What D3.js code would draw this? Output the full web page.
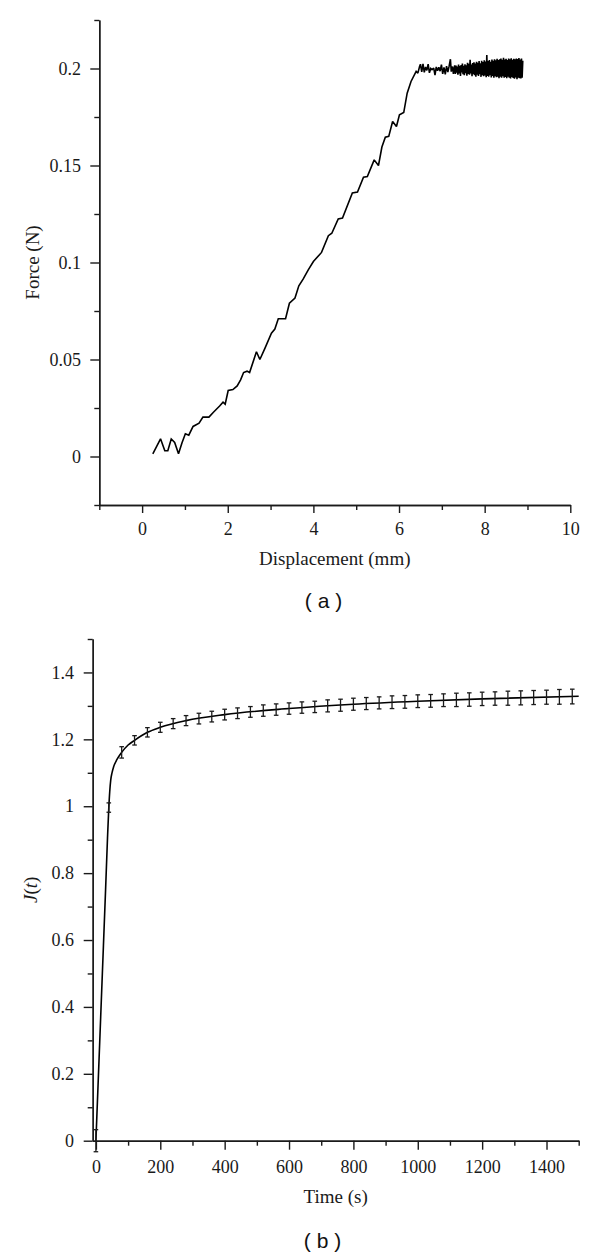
<!DOCTYPE html>
<html><head><meta charset="utf-8">
<script src="https://cdn.jsdelivr.net/npm/d3@7"></script>
<style>body{margin:0;background:#fff} svg{display:block}</style>
</head><body>
<svg id="c" width="600" height="1257"></svg>
<script>
// ---------- Panel (a): Force vs Displacement ----------
const dispTicks = [0, 2, 4, 6, 8, 10];
const dispTickLabels = ["0", "2", "4", "6", "8", "10"];
const dispMinorTicks = [-1, 1, 3, 5, 7, 9];
const forceTicks = [0, 0.05, 0.1, 0.15, 0.2];
const forceTickLabels = ["0", "0.05", "0.1", "0.15", "0.2"];
const forceMinorTicks = [-0.025, 0.025, 0.075, 0.125, 0.175, 0.225];

const forceRise = [
[0.25,0.0014],[0.43,0.0091],[0.53,0.0030],[0.60,0.0030],[0.68,0.0090],[0.76,0.0072],
[0.85,0.0014],[0.93,0.0070],[1.01,0.0117],[1.09,0.0110],[1.19,0.0155],[1.33,0.0172],
[1.42,0.0203],[1.56,0.0203],[1.66,0.0227],[1.81,0.0260],[1.89,0.0280],[1.94,0.0270],
[2.01,0.0340],[2.12,0.0345],[2.22,0.0364],[2.30,0.0395],[2.37,0.0433],[2.45,0.0440],
[2.51,0.0433],[2.67,0.0540],[2.75,0.0500],[2.87,0.0559],[3.02,0.0636],[3.10,0.0657],
[3.18,0.0710],[3.35,0.0710],[3.44,0.0790],[3.57,0.0817],[3.66,0.0880],[3.76,0.0914],
[3.88,0.0962],[4.00,0.1005],[4.19,0.1052],[4.35,0.1138],[4.43,0.1151],[4.58,0.1225],
[4.68,0.1229],[4.91,0.1358],[5.03,0.1363],[5.17,0.1440],[5.26,0.1443],[5.42,0.1529],
[5.52,0.1500],[5.60,0.1595],[5.68,0.1646],[5.76,0.1650],[5.85,0.1727],[5.94,0.1701],
[6.01,0.1761],[6.11,0.1773],[6.19,0.1873],[6.28,0.1933],[6.40,0.1985],[6.44,0.1976]
];
const forcePlateauSparse = [
[6.48,0.2010],[6.50,0.2022],[6.53,0.1982],[6.56,0.2024],[6.59,0.1980],[6.62,0.2008],
[6.65,0.1990],[6.68,0.2022],[6.71,0.1978],[6.74,0.2000],[6.77,0.1994],[6.81,0.2002],
[6.84,0.1966],[6.87,0.2008],[6.90,0.1988],[6.93,0.2006],[6.96,0.1986],[6.99,0.2020],
[7.02,0.1972],[7.05,0.2006],[7.08,0.1970],[7.11,0.2012],[7.14,0.1982],[7.17,0.2012],
[7.20,0.2048],[7.22,0.1984],[7.25,0.2010],[7.27,0.1972],[7.30,0.2016]
];
const forcePlateauDense = [
[7.315,0.1972],[7.330,0.2015],[7.345,0.1978],[7.360,0.2010],[7.375,0.1968],[7.390,0.2020],
[7.405,0.1975],[7.420,0.2012],[7.435,0.1962],[7.450,0.2018],[7.465,0.1980],[7.480,0.2025],
[7.495,0.1970],[7.510,0.2014],[7.525,0.1966],[7.540,0.2022],[7.555,0.1976],[7.570,0.2017],
[7.585,0.1963],[7.600,0.2030],[7.615,0.1972],[7.630,0.2024],[7.645,0.1968],[7.660,0.2045],
[7.675,0.1975],[7.690,0.2020],[7.705,0.1960],[7.720,0.2028],[7.735,0.1970],[7.750,0.2032],
[7.765,0.1965],[7.780,0.2026],[7.795,0.1958],[7.810,0.2035],[7.825,0.1968],[7.840,0.2030],
[7.855,0.1962],[7.870,0.2038],[7.885,0.1970],[7.900,0.2027],[7.915,0.1957],[7.930,0.2040],
[7.945,0.1966],[7.960,0.2033],[7.975,0.1960],[7.990,0.2042],[8.005,0.1964],[8.020,0.2036],
[8.035,0.1955],[8.050,0.2070],[8.065,0.1962],[8.080,0.2038],[8.095,0.1958],[8.110,0.2044],
[8.125,0.1966],[8.140,0.2035],[8.155,0.1954],[8.170,0.2046],[8.185,0.1962],[8.200,0.2040],
[8.215,0.1952],[8.230,0.2048],[8.245,0.1960],[8.260,0.2042],[8.275,0.1955],[8.290,0.2050],
[8.305,0.1958],[8.320,0.2044],[8.335,0.1950],[8.350,0.2047],[8.365,0.1957],[8.380,0.2052],
[8.395,0.1953],[8.410,0.2045],[8.425,0.1960],[8.440,0.2055],[8.455,0.1952],[8.470,0.2046],
[8.485,0.1956],[8.500,0.2050],[8.515,0.1950],[8.530,0.2044],[8.545,0.1958],[8.560,0.2052],
[8.575,0.1953],[8.590,0.2047],[8.605,0.1949],[8.620,0.2053],[8.635,0.1956],[8.650,0.2045],
[8.665,0.1951],[8.680,0.2050],[8.695,0.1947],[8.710,0.2048],[8.725,0.1954],[8.740,0.2052],
[8.755,0.1945],[8.770,0.2049],[8.785,0.1952],[8.800,0.2054],[8.815,0.1950],[8.830,0.2046],
[8.845,0.1948],[8.860,0.2051],[8.875,0.1953],[8.890,0.2040]
];

// ---------- Panel (b): J(t) vs Time ----------
const timeTicks = [0, 200, 400, 600, 800, 1000, 1200, 1400];
const timeTickLabels = ["0", "200", "400", "600", "800", "1000", "1200", "1400"];
const timeMinorTicks = [100, 300, 500, 700, 900, 1100, 1300, 1500];
const jTicks = [0, 0.2, 0.4, 0.6, 0.8, 1, 1.2, 1.4];
const jTickLabels = ["0", "0.2", "0.4", "0.6", "0.8", "1", "1.2", "1.4"];
const jMinorTicks = [0.1, 0.3, 0.5, 0.7, 0.9, 1.1, 1.3, 1.5];

const jTime = [0,40,80,120,160,200,240,280,320,360,400,440,480,520,560,600,640,680,720,760,
  800,840,880,920,960,1000,1040,1080,1120,1160,1200,1240,1280,1320,1360,1400,1440,1480];
const jMean = [0.000,0.996,1.161,1.197,1.221,1.236,1.247,1.256,1.262,1.268,1.274,1.278,1.282,
  1.286,1.289,1.292,1.295,1.297,1.300,1.302,1.305,1.307,1.309,1.311,1.312,1.314,1.315,1.317,
  1.318,1.319,1.321,1.322,1.323,1.324,1.325,1.326,1.327,1.328];
const jErr = [0.033,0.014,0.017,0.014,0.014,0.015,0.015,0.015,0.016,0.016,0.016,0.016,0.016,
  0.017,0.017,0.017,0.017,0.017,0.018,0.018,0.018,0.018,0.018,0.019,0.019,0.019,0.019,0.019,
  0.020,0.020,0.020,0.020,0.021,0.021,0.021,0.021,0.022,0.022];
const fitTime = [0,20,30,36,40,43,46,50,55,65,80,100,120,160,200,280,400,600,800,1000,1200,1500];
const fitJ = [0,0.50,0.75,0.905,0.995,1.045,1.078,1.100,1.118,1.139,1.161,1.183,1.197,1.221,1.236,1.256,1.274,1.292,1.305,1.314,1.321,1.329];

// ---------- drawing ----------
const svg = d3.select("#c");
const INK = "#1a1a1a";
const SERIF = "'Liberation Serif','Times New Roman',serif";
const SANS = "'Liberation Sans',Arial,sans-serif";

function styleAxis(g) {
  g.selectAll("path.domain").attr("stroke", INK).attr("stroke-width", 1.4);
  g.selectAll(".tick line").attr("stroke", INK).attr("stroke-width", 1.4);
  g.selectAll(".tick text").attr("fill", INK).style("font-family", SERIF).style("font-size", "18px");
}

// Panel (a)
const xA = d3.scaleLinear().domain([-1, 10]).range([99.3, 570.3]);
const yA = d3.scaleLinear().domain([-0.025, 0.225]).range([505, 20]);

const gA = svg.append("g");
gA.append("g").attr("transform", `translate(0,${yA(-0.025)})`)
  .call(d3.axisBottom(xA).tickValues(dispMinorTicks).tickSize(5).tickSizeOuter(0).tickFormat(""))
  .call(styleAxis);
gA.append("g").attr("transform", `translate(0,${yA(-0.025)})`)
  .call(d3.axisBottom(xA).tickValues(dispTicks).tickSize(8).tickPadding(9.7).tickSizeOuter(0)
    .tickFormat((d, i) => dispTickLabels[i]))
  .call(styleAxis);
gA.append("g").attr("transform", `translate(${xA(-1)},0)`)
  .call(d3.axisLeft(yA).tickValues(forceMinorTicks).tickSize(5).tickSizeOuter(0).tickFormat(""))
  .call(styleAxis);
gA.append("g").attr("transform", `translate(${xA(-1)},0)`)
  .call(d3.axisLeft(yA).tickValues(forceTicks).tickSize(9).tickPadding(9.3).tickSizeOuter(0)
    .tickFormat((d, i) => forceTickLabels[i]))
  .call(styleAxis);

const forceAll = forceRise.concat(forcePlateauSparse, forcePlateauDense);
gA.append("path").datum(forceAll)
  .attr("fill", "none").attr("stroke", "#000").attr("stroke-width", 1.6)
  .attr("stroke-linejoin", "miter").attr("stroke-miterlimit", 2)
  .attr("d", d3.line().x(d => xA(d[0])).y(d => yA(d[1])));

gA.append("text").attr("x", (xA(-1) + xA(10)) / 2).attr("y", 565)
  .attr("text-anchor", "middle").attr("fill", INK)
  .style("font-family", SERIF).style("font-size", "19px").text("Displacement (mm)");
gA.append("text").attr("transform", `translate(39,${(yA(-0.025) + yA(0.225)) / 2}) rotate(-90)`)
  .attr("text-anchor", "middle").attr("fill", INK)
  .style("font-family", SERIF).style("font-size", "19px").text("Force (N)");
svg.append("text").attr("x", 323.5).attr("y", 608).attr("text-anchor", "middle").attr("fill", "#111")
  .style("font-family", SANS).style("font-size", "21px").text("( a )");

// Panel (b)
const xB = d3.scaleLinear().domain([-10, 1500]).range([92.7, 578.7]);
const yB = d3.scaleLinear().domain([0, 1.5]).range([1140.7, 639]);

const gB = svg.append("g");
gB.append("g").attr("transform", `translate(0,${yB(0)})`)
  .call(d3.axisBottom(xB).tickValues(timeMinorTicks).tickSize(5).tickSizeOuter(0).tickFormat(""))
  .call(styleAxis);
gB.append("g").attr("transform", `translate(0,${yB(0)})`)
  .call(d3.axisBottom(xB).tickValues(timeTicks).tickSize(9).tickPadding(10.2).tickSizeOuter(0)
    .tickFormat((d, i) => timeTickLabels[i]))
  .call(styleAxis);
gB.append("g").attr("transform", `translate(${xB(-10)},0)`)
  .call(d3.axisLeft(yB).tickValues(jMinorTicks).tickSize(5).tickSizeOuter(0).tickFormat(""))
  .call(styleAxis);
gB.append("g").attr("transform", `translate(${xB(-10)},0)`)
  .call(d3.axisLeft(yB).tickValues(jTicks).tickSize(9).tickPadding(9.7).tickSizeOuter(0)
    .tickFormat((d, i) => jTickLabels[i]))
  .call(styleAxis);

const fit = fitTime.map((t, i) => [t, fitJ[i]]);
gB.append("path").datum(fit)
  .attr("fill", "none").attr("stroke", "#000").attr("stroke-width", 1.6)
  .attr("d", d3.line().curve(d3.curveMonotoneX).x(d => xB(d[0])).y(d => yB(d[1])));

const pts = jTime.map((t, i) => ({ t, m: jMean[i], e: jErr[i] }));
const eb = gB.append("g").attr("stroke", INK).attr("stroke-width", 1.3);
eb.selectAll("line.v").data(pts).join("line").attr("class", "v")
  .attr("x1", d => xB(d.t)).attr("x2", d => xB(d.t))
  .attr("y1", d => yB(d.m - d.e)).attr("y2", d => yB(d.m + d.e));
eb.selectAll("line.top").data(pts).join("line").attr("class", "top")
  .attr("x1", d => xB(d.t) - 2.3).attr("x2", d => xB(d.t) + 2.3)
  .attr("y1", d => yB(d.m + d.e)).attr("y2", d => yB(d.m + d.e));
eb.selectAll("line.bot").data(pts).join("line").attr("class", "bot")
  .attr("x1", d => xB(d.t) - 2.3).attr("x2", d => xB(d.t) + 2.3)
  .attr("y1", d => yB(d.m - d.e)).attr("y2", d => yB(d.m - d.e));

gB.append("text").attr("x", (xB(-10) + xB(1500)) / 2).attr("y", 1202.5)
  .attr("text-anchor", "middle").attr("fill", INK)
  .style("font-family", SERIF).style("font-size", "19px").text("Time (s)");
const jl = gB.append("text").attr("transform", `translate(37,${(yB(0) + yB(1.5)) / 2}) rotate(-90)`)
  .attr("text-anchor", "middle").attr("fill", INK)
  .style("font-family", SERIF).style("font-size", "19px");
jl.append("tspan").style("font-style", "italic").text("J");
jl.append("tspan").text("(");
jl.append("tspan").style("font-style", "italic").text("t");
jl.append("tspan").text(")");
svg.append("text").attr("x", 322.5).attr("y", 1248).attr("text-anchor", "middle").attr("fill", "#111")
  .style("font-family", SANS).style("font-size", "21px").text("( b )");
</script></body></html>
